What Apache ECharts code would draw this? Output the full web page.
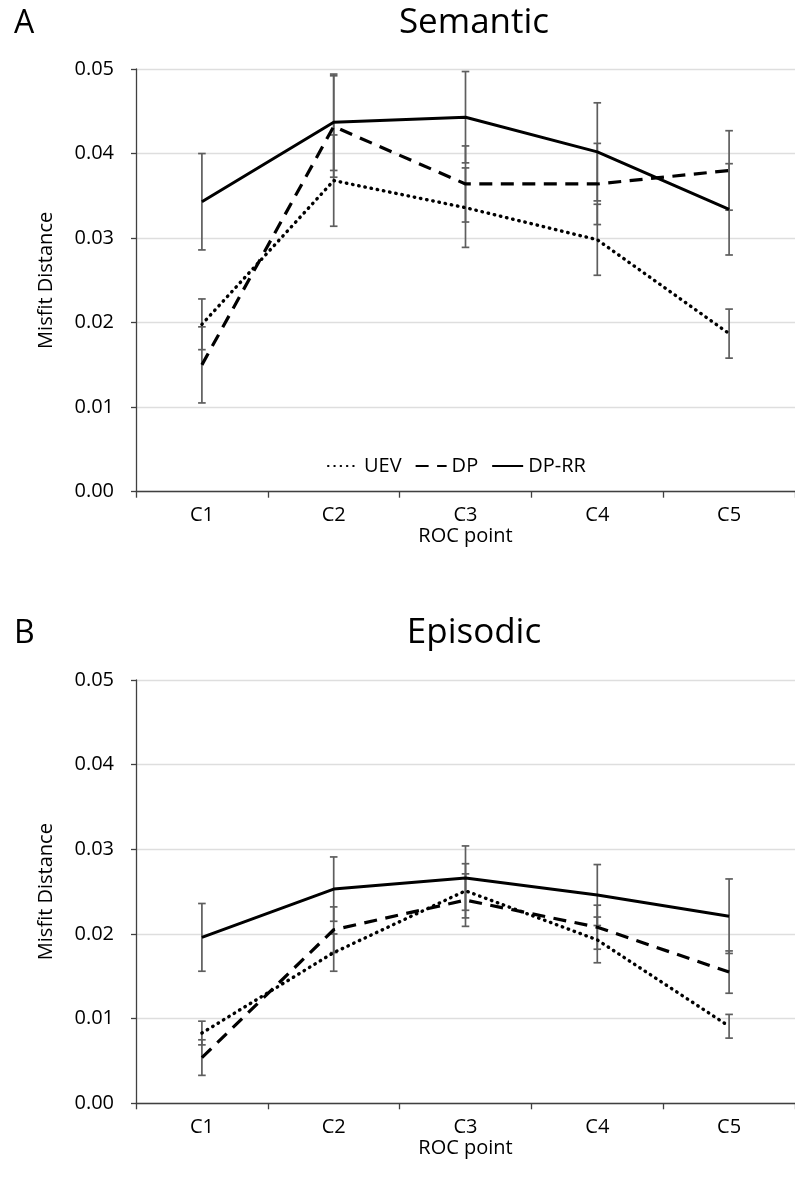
<!DOCTYPE html>
<html>
<head>
<meta charset="utf-8">
<script src="https://cdn.jsdelivr.net/npm/echarts@6/dist/echarts.min.js"></script>
<style>
  html, body { margin: 0; padding: 0; background: #fff; }
  #chart { width: 795px; height: 1190px; }
</style>
</head>
<body>
<div id="chart"></div>
<script>
// ROC points on the x axis
const categories = ['C1', 'C2', 'C3', 'C4', 'C5'];
const seriesNames = ['UEV', 'DP', 'DP-RR'];

// Panel A: Semantic — mean misfit distance and error half-widths
const semanticUEV = [0.0198, 0.0368, 0.0336, 0.0298, 0.0187];
const semanticUEVErr = [0.0030, 0.0054, 0.0047, 0.0042, 0.0029];
const semanticDP = [0.0150, 0.0432, 0.0364, 0.0364, 0.0380];
const semanticDPErr = [0.0045, 0.0060, 0.0045, 0.0048, 0.0047];
const semanticDPRR = [0.0343, 0.0437, 0.0443, 0.0402, 0.0334];
const semanticDPRRErr = [0.0057, 0.0057, 0.0054, 0.0058, 0.0054];

// Panel B: Episodic
const episodicUEV = [0.0083, 0.0178, 0.0251, 0.0193, 0.0091];
const episodicUEVErr = [0.0014, 0.0022, 0.0032, 0.0027, 0.0014];
const episodicDP = [0.0054, 0.0205, 0.0240, 0.0208, 0.0155];
const episodicDPErr = [0.0021, 0.0027, 0.0031, 0.0026, 0.0025];
const episodicDPRR = [0.0196, 0.0253, 0.0266, 0.0246, 0.0221];
const episodicDPRRErr = [0.0040, 0.0038, 0.0038, 0.0036, 0.0044];

// Y axis range / ticks
const yMin = 0;
const yMax = 0.05;
const yStep = 0.01;

const FONT = '"Open Sans", "Noto Sans", sans-serif';
const AXIS_COLOR = '#404040';
const BAR_COLOR = '#5e5e5e';

const lineStyles = {
  'UEV': { type: [0.5, 5.8], width: 3.4, cap: 'round' },
  'DP': { type: [13, 8.5], width: 3.2 },
  'DP-RR': { type: 'solid', width: 3 }
};

function errorBarItem(params, api) {
  const x = api.value(0);
  const lo = api.coord([x, api.value(1)]);
  const hi = api.coord([x, api.value(2)]);
  const w = 3.8;
  const style = { stroke: BAR_COLOR, lineWidth: 1.7 };
  return {
    type: 'group',
    children: [
      { type: 'line', shape: { x1: lo[0], y1: lo[1], x2: hi[0], y2: hi[1] }, style },
      { type: 'line', shape: { x1: lo[0] - w, y1: lo[1], x2: lo[0] + w, y2: lo[1] }, style },
      { type: 'line', shape: { x1: hi[0] - w, y1: hi[1], x2: hi[0] + w, y2: hi[1] }, style }
    ]
  };
}

function errorData(values, errs) {
  return values.map((v, i) => [i, v - errs[i], v + errs[i]]);
}

function panelSeries(axisIndex, values, errs) {
  const out = [];
  // error bars first so the lines sit on top
  seriesNames.forEach((name, k) => {
    out.push({
      type: 'custom',
      name: name + ' error',
      xAxisIndex: axisIndex,
      yAxisIndex: axisIndex,
      renderItem: errorBarItem,
      encode: { x: 0, y: [1, 2] },
      data: errorData(values[k], errs[k]),
      silent: true,
      z: 2
    });
  });
  seriesNames.forEach((name, k) => {
    out.push({
      type: 'line',
      name: name,
      xAxisIndex: axisIndex,
      yAxisIndex: axisIndex,
      data: values[k],
      symbol: 'none',
      lineStyle: Object.assign({ color: '#000' }, lineStyles[name]),
      itemStyle: { color: '#000' },
      z: 3
    });
  });
  return out;
}

function xAxisFor(gridIndex) {
  return {
    type: 'category',
    gridIndex: gridIndex,
    data: categories,
    boundaryGap: true,
    name: 'ROC point',
    nameLocation: 'middle',
    nameGap: 34,
    nameTextStyle: { fontFamily: FONT, fontSize: 20, color: '#000' },
    axisLine: { lineStyle: { color: AXIS_COLOR, width: 1.3 } },
    axisTick: { show: true, length: 6, lineStyle: { color: AXIS_COLOR, width: 1.3 } },
    axisLabel: { fontFamily: FONT, fontSize: 20, color: '#000', margin: 14 },
    splitLine: { show: false }
  };
}

function yAxisFor(gridIndex) {
  return {
    type: 'value',
    gridIndex: gridIndex,
    min: yMin,
    max: yMax,
    interval: yStep,
    name: 'Misfit Distance',
    nameLocation: 'middle',
    nameRotate: 90,
    nameGap: 80,
    nameTextStyle: { fontFamily: FONT, fontSize: 20, color: '#000' },
    axisLine: { show: true, lineStyle: { color: AXIS_COLOR, width: 1.3 } },
    axisTick: { show: true, length: 5, lineStyle: { color: AXIS_COLOR, width: 1.3 } },
    axisLabel: {
      fontFamily: FONT, fontSize: 20, color: '#000', margin: 22,
      formatter: v => v.toFixed(2)
    },
    splitLine: { show: true, lineStyle: { color: '#dedede', width: 1.3 } }
  };
}

const chart = echarts.init(document.getElementById('chart'), null, { renderer: 'canvas' });

chart.setOption({
  backgroundColor: '#fff',
  animation: false,
  title: [
    { text: 'A', left: 9, top: 3, textStyle: { fontFamily: FONT, fontSize: 32, fontWeight: 'normal', color: '#000' } },
    { text: 'Semantic', left: 469, textAlign: 'center', top: 1, textStyle: { fontFamily: FONT, fontSize: 35, fontWeight: 'normal', color: '#000' } },
    { text: 'B', left: 9, top: 613, textStyle: { fontFamily: FONT, fontSize: 32, fontWeight: 'normal', color: '#000' } },
    { text: 'Episodic', left: 469, textAlign: 'center', top: 611, textStyle: { fontFamily: FONT, fontSize: 35, fontWeight: 'normal', color: '#000' } }
  ],
  legend: {
    data: seriesNames,
    left: 322,
    top: 451,
    itemWidth: 31,
    itemHeight: 12,
    itemGap: 13,
    itemStyle: { opacity: 0 },
    textStyle: { fontFamily: FONT, fontSize: 20, color: '#000' }
  },
  grid: [
    { left: 136, right: -10, top: 69, height: 422.7 },
    { left: 136, right: -10, top: 680, height: 423.3 }
  ],
  xAxis: [xAxisFor(0), xAxisFor(1)],
  yAxis: [yAxisFor(0), yAxisFor(1)],
  series: [].concat(
    panelSeries(0, [semanticUEV, semanticDP, semanticDPRR], [semanticUEVErr, semanticDPErr, semanticDPRRErr]),
    panelSeries(1, [episodicUEV, episodicDP, episodicDPRR], [episodicUEVErr, episodicDPErr, episodicDPRRErr])
  )
});
</script>
</body>
</html>
